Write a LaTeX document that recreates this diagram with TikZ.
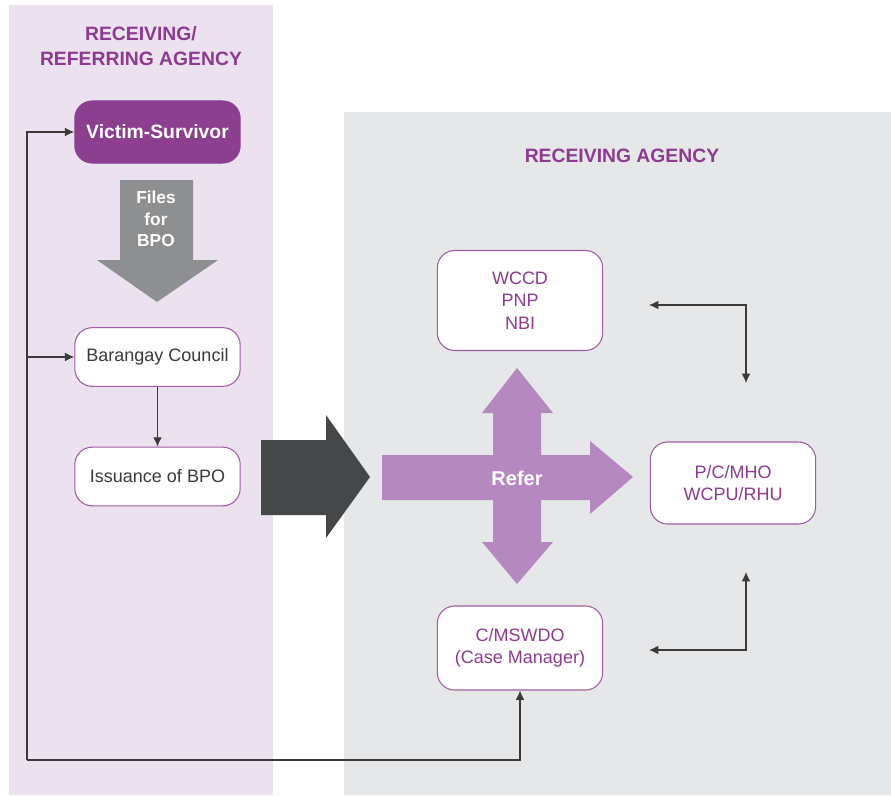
\documentclass[tikz,border=0pt]{standalone}
\usepackage{fontspec}
\setmainfont{Liberation Sans}
\usepackage{tikz}
\usetikzlibrary{arrows.meta}

\definecolor{leftpanel}{HTML}{ECE2EF}
\definecolor{rightpanel}{HTML}{E6E7E9}
\definecolor{agencypurple}{HTML}{8E3A91}
\definecolor{victimfill}{HTML}{8C3F8F}
\definecolor{boxline}{HTML}{A15CA6}
\definecolor{crosspurple}{HTML}{B588C0}
\definecolor{bigarrow}{HTML}{464748}
\definecolor{filesgray}{HTML}{8E8F91}
\definecolor{linkgray}{HTML}{3A3A3A}

\tikzset{
	agencybox/.style={draw=boxline, line width=0.8pt, fill=white, rounded corners=13pt,
		minimum width=124pt, align=center, font=\fontsize{13.5}{17}\selectfont},
	headline/.style={text=agencypurple, align=center, font=\bfseries\fontsize{14.5}{19}\selectfont},
	link/.style={draw=linkgray, line width=0.8pt, -{Latex[length=7pt,width=6.5pt]}},
	twolink/.style={draw=linkgray, line width=0.8pt, {Latex[length=7pt,width=6.5pt]}-{Latex[length=7pt,width=6.5pt]}}
}

\begin{document}
\begin{tikzpicture}[x=0.75pt,y=-0.75pt]
		\useasboundingbox (0,0) rectangle (891,795);
		% panels
		\fill[leftpanel] (9,5) rectangle (273,795);
		\fill[rightpanel] (344,112) rectangle (891,795);
		\node[headline] (lefthead) at (141,46) {RECEIVING/\\REFERRING AGENCY};
		\node[headline] (righthead) at (622,156) {RECEIVING AGENCY};

		% left column
		\node[agencybox, fill=victimfill, draw=victimfill, minimum height=46.5pt, text=white, font=\bfseries\fontsize{14.5}{17}\selectfont] (victim) at (157.5,132) {Victim-Survivor};
		\fill[filesgray] (120,180) -- (193,180) -- (193,260) -- (218,260) -- (157,302) -- (97,260) -- (120,260) -- cycle;
		\node[text=white, align=center, font=\bfseries\fontsize{13}{16}\selectfont] (files) at (156,219) {Files\\for\\BPO};
		\node[agencybox, minimum height=44pt, text=linkgray] (barangay) at (157.5,357) {Barangay Council};
		\node[agencybox, minimum height=44pt, text=linkgray] (issuance) at (157.5,476.5) {Issuance of BPO};
		\draw[link] (barangay) -- (issuance);

		% big arrows
		\fill[bigarrow] (261,440) -- (326,440) -- (326,415) -- (370,477) -- (326,538) -- (326,515) -- (261,515) -- cycle;
		\fill[crosspurple] (382,455) -- (493,455) -- (493,413) -- (482,413) -- (517,368) -- (553,413) -- (541,413) -- (541,455)
			-- (590,455) -- (590,441) -- (633,477) -- (590,514) -- (590,500) -- (541,500) -- (541,542) -- (553,542)
			-- (517,584) -- (482,542) -- (493,542) -- (493,500) -- (382,500) -- cycle;
		\node[text=white, font=\bfseries\fontsize{15}{18}\selectfont] (refer) at (517,478) {Refer};

		% right column
		\node[agencybox, minimum height=75pt, text=agencypurple] (wccd) at (520,300.5) {WCCD\\PNP\\NBI};
		\node[agencybox, minimum height=61.5pt, text=agencypurple] (mho) at (733,483) {P/C/MHO\\WCPU/RHU};
		\node[agencybox, minimum height=63pt, text=agencypurple] (mswdo) at (520,648) {C/MSWDO\\(Case Manager)};

		\coordinate (wccdtip) at (649,305);
		\coordinate (mhotop) at (746,383);
		\coordinate (mhobottom) at (746,572);
		\coordinate (mswdotip) at (649,650);
		\coordinate (loopcorner) at (27,760);
		\draw[twolink] (wccdtip) -| (mhotop);
		\draw[twolink] (mswdotip) -| (mhobottom);

		% loop back
		\draw[link] (loopcorner) |- (victim.west);
		\draw[link] (loopcorner |- barangay.west) -- (barangay.west);
		\draw[link] (loopcorner) -| (mswdo.south);
	\end{tikzpicture}
\end{document}
